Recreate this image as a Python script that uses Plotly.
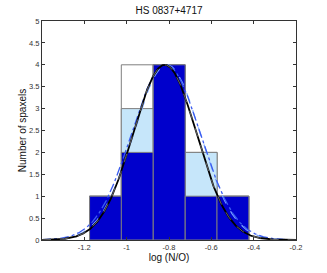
import numpy as np
import plotly.graph_objects as go

# Histogram bins (centres) and counts
bin_centers = [-1.100, -0.950, -0.799, -0.648, -0.498]
bin_width = 0.1506
counts_all = [1, 4, 4, 2, 1]      # white (back)
counts_mid = [1, 3, 4, 2, 1]      # light blue
counts_sel = [1, 2, 4, 1, 1]      # dark blue (front)

# Gaussian fit parameters: (amplitude, mean, sigma)
fit_black = (4.0, -0.820, 0.150)
fit_blue_dashdot = (4.0, -0.815, 0.163)
fit_blue_dash = (4.0, -0.810, 0.158)

xtick_vals = [-1.2, -1.0, -0.8, -0.6, -0.4, -0.2]
xtick_text = ["-1.2", "-1", "-0.8", "-0.6", "-0.4", "-0.2"]
ytick_vals = [0, 0.5, 1, 1.5, 2, 2.5, 3, 3.5, 4, 4.5, 5]
ytick_text = ["0", "0.5", "1", "1.5", "2", "2.5", "3", "3.5", "4", "4.5", "5"]

xgrid = np.linspace(-1.4, -0.2, 400)


def gauss(p):
    a, m, s = p
    return a * np.exp(-(xgrid - m) ** 2 / (2 * s ** 2))


fig = go.Figure()
edge = dict(color="#7f7f7f", width=1)
fig.add_bar(x=bin_centers, y=counts_all, width=bin_width, marker=dict(color="white", line=edge))
fig.add_bar(x=bin_centers, y=counts_mid, width=bin_width, marker=dict(color="#C6E6FA", line=edge))
fig.add_bar(x=bin_centers, y=counts_sel, width=bin_width, marker=dict(color="#0000CC", line=edge))

fig.add_scatter(x=xgrid, y=gauss(fit_blue_dash), mode="lines",
                line=dict(color="#7FA8FF", width=1.3, dash="dash"))
fig.add_scatter(x=xgrid, y=gauss(fit_blue_dashdot), mode="lines",
                line=dict(color="#3A5CF0", width=1.3, dash="dashdot"))
fig.add_scatter(x=xgrid, y=gauss(fit_black), mode="lines",
                line=dict(color="black", width=1.8))
fig.add_scatter(x=xgrid, y=gauss(fit_black), mode="lines",
                line=dict(color="#aaaaaa", width=0.6, dash="dash"))

fig.update_layout(
    width=327, height=273,
    margin=dict(l=42, r=31, t=21, b=31),
    paper_bgcolor="white", plot_bgcolor="white",
    barmode="overlay", showlegend=False, hovermode=False,
    font=dict(family="Liberation Sans, Arial, sans-serif", color="#222"),
    title=dict(text="HS 0837+4717", x=0.517, xanchor="center", y=0.963, yanchor="middle",
               font=dict(size=10, color="#111")),
)
axis_common = dict(showline=True, linecolor="#333", linewidth=1, mirror="ticks",
                   ticks="inside", ticklen=3, tickcolor="#333", showgrid=False,
                   zeroline=False, tickfont=dict(size=7.5, color="#333"))
fig.update_xaxes(range=[-1.4, -0.2], tickvals=xtick_vals, ticktext=xtick_text,
                 title=dict(text="log (N/O)", font=dict(size=10, color="#111"), standoff=2),
                 **axis_common)
fig.update_yaxes(range=[0, 5], tickvals=ytick_vals, ticktext=ytick_text,
                 title=dict(text="Number of spaxels", font=dict(size=10, color="#111"), standoff=0),
                 **axis_common)

fig.write_html("out.html", config={"displayModeBar": False},
               post_script="document.body.style.margin='0';")
